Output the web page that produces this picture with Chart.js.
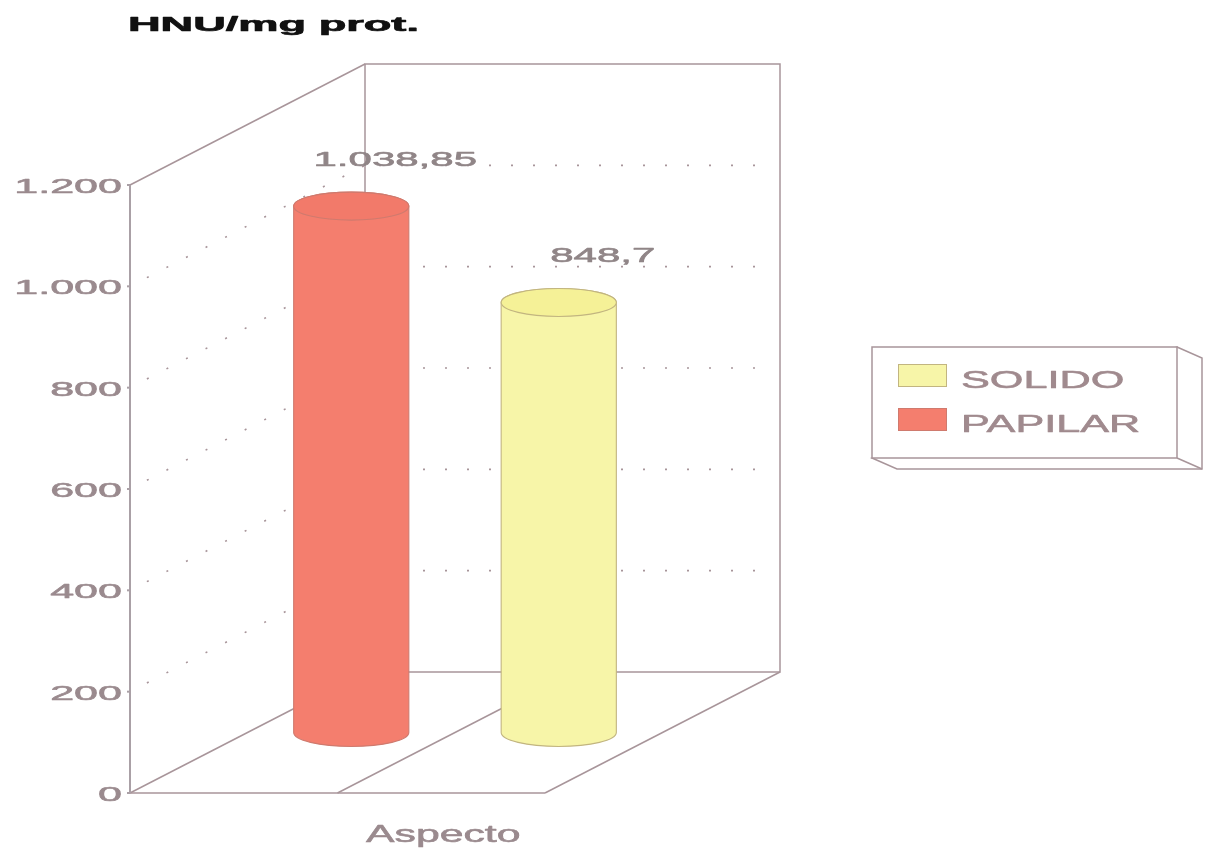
<!DOCTYPE html>
<html>
<head>
<meta charset="utf-8">
<title>HNU/mg prot. — Aspecto</title>
<script src="https://cdn.jsdelivr.net/npm/chart.js@4.4.1/dist/chart.umd.min.js"></script>
<style>
  html, body { margin: 0; padding: 0; background: #ffffff; }
  #wrap { width: 1210px; height: 850px; }
  canvas { display: block; }
</style>
</head>
<body>
<div id="wrap"><canvas id="chart" width="1210" height="850"></canvas></div>
<script>
// ---- data ----
const categories = ['Aspecto'];
const seriesNames = ['PAPILAR', 'SOLIDO'];
const papilarValues = [1038.85];
const solidoValues = [848.7];
const yTicks = [0, 200, 400, 600, 800, 1000, 1200];
const yTitle = 'HNU/mg prot.';

// ---- styling ----
const COLORS = {
  papilar: { body: '#f47e6e', top: '#f27a6a', edge: '#cf7a6e' },
  solido:  { body: '#f7f5a8', top: '#f5f197', edge: '#c2b580' }
};
const LINE = '#a8959a';
const AXIS = '#aaa0a6';
const TEXT = '#9a8a8e';
const DEPTH_X = 235, DEPTH_Y = -121;   // oblique projection of the box depth
const FONT = '"Liberation Sans", Arial, sans-serif';

// 1.038,85 style numbers
function fmt(v) {
  const neg = v < 0;
  const parts = String(Math.abs(v)).split('.');
  const int = parts[0].replace(/\B(?=(\d{3})+(?!\d))/g, '.');
  return (neg ? '-' : '') + int + (parts[1] ? ',' + parts[1] : '');
}

// horizontally stretched text (wide face); a light outline evens out stroke weight
function wideText(ctx, text, x, y, size, sx, align, color, weight, outline) {
  ctx.save();
  ctx.font = (weight || 'normal') + ' ' + size + 'px ' + FONT;
  ctx.fillStyle = color;
  ctx.strokeStyle = color;
  ctx.textBaseline = 'alphabetic';
  ctx.textAlign = align;
  ctx.translate(x, y);
  ctx.scale(sx, 1);
  ctx.fillText(text, 0, 0);
  if (outline) {
    ctx.lineWidth = outline;
    ctx.lineJoin = 'round';
    ctx.strokeText(text, 0, 0);
  }
  ctx.restore();
}

function line(ctx, x1, y1, x2, y2) {
  ctx.beginPath();
  ctx.moveTo(x1, y1);
  ctx.lineTo(x2, y2);
  ctx.stroke();
}

function drawCylinder(ctx, cx, top, base, rx, ry, c) {
  ctx.save();
  ctx.lineWidth = 1.1;
  ctx.strokeStyle = c.edge;
  ctx.fillStyle = c.body;
  ctx.beginPath();
  ctx.moveTo(cx - rx, top);
  ctx.lineTo(cx - rx, base);
  ctx.ellipse(cx, base, rx, ry, 0, Math.PI, 0, true);
  ctx.lineTo(cx + rx, top);
  ctx.ellipse(cx, top, rx, ry, 0, 0, Math.PI, true);
  ctx.closePath();
  ctx.fill();
  ctx.stroke();
  ctx.beginPath();
  ctx.ellipse(cx, top, rx, ry, 0, 0, Math.PI * 2);
  ctx.fillStyle = c.top;
  ctx.fill();
  ctx.stroke();
  ctx.restore();
}

const box3d = {
  id: 'box3d',
  beforeDatasetsDraw() { return false; },   // bars are drawn as cylinders below
  afterDraw(chart) {
    const ctx = chart.ctx;
    const a = chart.chartArea;
    const ys = chart.scales.y, xs = chart.scales.x;
    const L = a.left, R = a.right, T = a.top, B = a.bottom;
    const tickVals = ys.ticks.map(t => t.value);

    ctx.save();
    // dotted grid on the side and back walls
    ctx.strokeStyle = LINE;
    ctx.lineWidth = 1.6;
    ctx.lineCap = 'butt';
    tickVals.forEach(v => {
      if (v === ys.min || v === ys.max) return;
      const y = ys.getPixelForValue(v);
      ctx.setLineDash([2, 20]);
      ctx.lineDashOffset = -19;
      line(ctx, L, y, L + DEPTH_X, y + DEPTH_Y);
      ctx.lineDashOffset = -14;
      line(ctx, L + DEPTH_X, y + DEPTH_Y, R + DEPTH_X - 12, y + DEPTH_Y);
    });
    ctx.setLineDash([]);

    // box edges
    ctx.lineWidth = 1.5;
    ctx.strokeStyle = LINE;
    line(ctx, L, T, L + DEPTH_X, T + DEPTH_Y);
    line(ctx, L, B, L + DEPTH_X, B + DEPTH_Y);
    ctx.strokeRect(L + DEPTH_X, T + DEPTH_Y, R - L, B - T);
    line(ctx, L, B, R, B);
    line(ctx, R, B, R + DEPTH_X, B + DEPTH_Y);

    // floor dividers between the bars
    const bars = [];
    chart.data.datasets.forEach((ds, i) => {
      chart.getDatasetMeta(i).data.forEach((el, j) => bars.push({ el, ds, j }));
    });
    bars.sort((p, q) => p.el.x - q.el.x);
    for (let i = 0; i + 1 < bars.length; i++) {
      const mx = (bars[i].el.x + bars[i + 1].el.x) / 2;
      line(ctx, mx, B, mx + DEPTH_X, B + DEPTH_Y);
    }

    // front value axis
    ctx.strokeStyle = AXIS;
    ctx.lineWidth = 2;
    line(ctx, L, T, L, B);
    tickVals.forEach(v => {
      const y = ys.getPixelForValue(v);
      line(ctx, L - 3, y, L, y);
    });
    ctx.restore();

    // tick labels
    tickVals.forEach(v => {
      wideText(ctx, fmt(v), L - 8, ys.getPixelForValue(v) + 8, 21, 2.05, 'right', TEXT, 'normal', 0.6);
    });

    // cylinders at mid depth
    bars.forEach(({ el, ds }) => {
      const p = el.getProps(['x', 'y', 'base', 'width'], true);
      const cx = p.x + DEPTH_X / 2;
      const top = p.y + DEPTH_Y / 2;
      const base = p.base + DEPTH_Y / 2;
      drawCylinder(ctx, cx, top, base, p.width / 2, 14, ds.cyl);
    });

    // value labels
    bars.forEach(({ el, ds, j }) => {
      const p = el.getProps(['x', 'y'], true);
      wideText(ctx, fmt(ds.data[j]), p.x + DEPTH_X / 2 + 44, p.y + DEPTH_Y / 2 - 40, 21, 2.0, 'center', '#908587', 'normal', 0.6);
    });

    // category title under the floor
    categories.forEach((c, i) => {
      const x = xs.getPixelForValue(i) + DEPTH_X * 0.45;
      wideText(ctx, c, x, B + 49, 24, 1.78, 'center', TEXT, 'normal', 0.6);
    });

    // value axis title
    wideText(ctx, yTitle, 128, 31, 21, 2.15, 'left', '#111111', 'bold', 0.7);

    // legend box (3D slab)
    const lx = 872, ly = 347, lw = 305, lh = 111, ex = 25, ey = 11;
    ctx.save();
    ctx.strokeStyle = LINE;
    ctx.lineWidth = 1.5;
    ctx.fillStyle = '#ffffff';
    ctx.beginPath();
    ctx.moveTo(lx + lw, ly);
    ctx.lineTo(lx + lw + ex, ly + ey);
    ctx.lineTo(lx + lw + ex, ly + lh + ey);
    ctx.lineTo(lx + ex, ly + lh + ey);
    ctx.lineTo(lx, ly + lh);
    ctx.closePath();
    ctx.fill();
    ctx.stroke();
    line(ctx, lx + lw, ly + lh, lx + lw + ex, ly + lh + ey);
    ctx.fillRect(lx, ly, lw, lh);
    ctx.strokeRect(lx, ly, lw, lh);
    ctx.restore();

    const items = chart.data.datasets.slice().reverse();
    items.forEach((ds, i) => {
      const sy = 364 + i * 44;
      ctx.save();
      ctx.fillStyle = ds.backgroundColor;
      ctx.fillRect(898, sy, 49, 23);
      ctx.strokeStyle = ds.cyl.edge;
      ctx.lineWidth = 1;
      ctx.strokeRect(898.5, sy + 0.5, 48, 22);
      ctx.restore();
      wideText(ctx, ds.label, 961, sy + 24, 24, 1.8, 'left', '#a08a8e', 'normal', 0.6);
    });
  }
};

new Chart(document.getElementById('chart'), {
  type: 'bar',
  data: {
    labels: categories,
    datasets: [
      { label: seriesNames[0], data: papilarValues, backgroundColor: COLORS.papilar.body, cyl: COLORS.papilar },
      { label: seriesNames[1], data: solidoValues, backgroundColor: COLORS.solido.body, cyl: COLORS.solido }
    ]
  },
  options: {
    responsive: false,
    animation: false,
    devicePixelRatio: 1,
    layout: { padding: { left: 130, right: 665, top: 185, bottom: 57 } },
    datasets: { bar: { categoryPercentage: 1, barPercentage: 0.555 } },
    scales: {
      x: { display: false },
      y: {
        display: false,
        min: yTicks[0],
        max: yTicks[yTicks.length - 1],
        afterBuildTicks: s => { s.ticks = yTicks.map(v => ({ value: v })); }
      }
    },
    plugins: { legend: { display: false }, tooltip: { enabled: false } }
  },
  plugins: [box3d]
});
</script>
</body>
</html>
